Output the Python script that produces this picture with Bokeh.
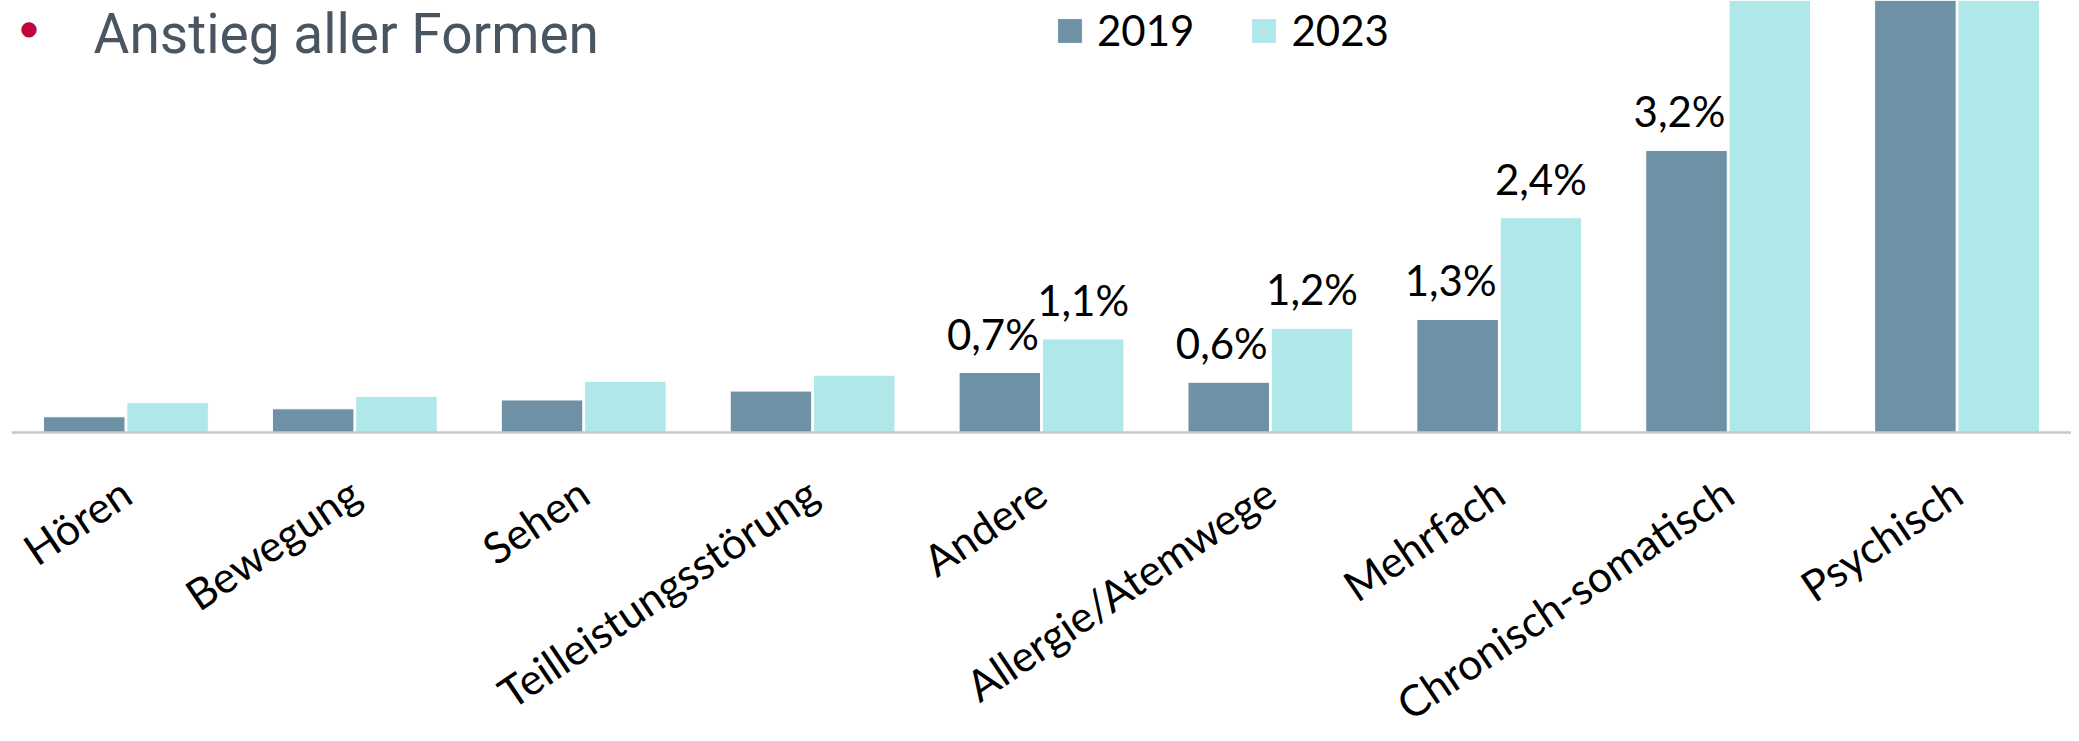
import math
from bokeh.plotting import figure
from bokeh.models import (ColumnDataSource, FactorRange, Range1d, CategoricalAxis, Label)
from bokeh.transform import dodge
from bokeh.core.properties import value
from bokeh.embed import file_html
from bokeh.resources import INLINE

# ---- data (values in %) ----
categories = ["Hören", "Bewegung", "Sehen", "Teilleistungsstörung", "Andere",
              "Allergie/Atemwege", "Mehrfach", "Chronisch-somatisch", "Psychisch"]
years = ["2019", "2023"]
values_2019 = [0.18, 0.27, 0.37, 0.47, 0.68, 0.57, 1.28, 3.19, 6.9]
values_2023 = [0.34, 0.41, 0.58, 0.65, 1.06, 1.18, 2.43, 5.6, 9.3]
first_labelled = 4          # data labels shown from "Andere" on
title_text = "Anstieg aller Formen"

# ---- styling ----
C2019 = "#6f91a5"
C2023 = "#b0e8ea"
Y_START, Y_END = -3.40, 4.885
FONT = "Lato"

def fmt(v):
    return f"{v:.1f}".replace(".", ",") + "%"

src = ColumnDataSource(dict(cat=categories, v2019=values_2019, v2023=values_2023))

p = figure(width=2071, height=733,
           x_range=FactorRange(factors=categories, range_padding=0),
           y_range=Range1d(Y_START, Y_END),
           x_axis_location=None, y_axis_location=None,
           min_border_left=11, min_border_right=0, min_border_top=0,
           min_border_bottom=0,
           output_backend="svg", toolbar_location=None)
p.outline_line_color = None
p.grid.visible = False
p.background_fill_color = "white"
p.border_fill_color = "white"
p.title.visible = False

p.vbar(x=dodge("cat", -0.182, range=p.x_range), top="v2019", width=0.356,
       source=src, fill_color=C2019, line_color="white", line_width=1,
       legend_label=years[0])
p.vbar(x=dodge("cat", 0.182, range=p.x_range), top="v2023", width=0.356,
       source=src, fill_color=C2023, line_color="white", line_width=1,
       legend_label=years[1])

# data labels (only where visible inside the plot)
for vals, off, xo in ((values_2019, -0.182, -7), (values_2023, 0.182, 0)):
    cats_l, vals_l, txt_l = [], [], []
    for i in range(first_labelled, len(categories)):
        if vals[i] < Y_END * 0.85:
            cats_l.append(categories[i]); vals_l.append(vals[i]); txt_l.append(fmt(vals[i]))
    ls = ColumnDataSource(dict(cat=cats_l, v=vals_l, t=txt_l))
    p.text(x=dodge("cat", off, range=p.x_range), y="v", text="t", source=ls,
           text_align="center", text_baseline="middle", y_offset=-39, x_offset=xo,
           text_font=value(FONT), text_font_size="42px", text_color="black")

# category axis at y = 0
xaxis = CategoricalAxis(fixed_location=0,
                        major_label_orientation=math.radians(34),
                        major_label_standoff=55,
                        major_tick_line_color=None, major_tick_out=0, major_tick_in=0,
                        minor_tick_line_color=None,
                        axis_line_color="#c8c8c8", axis_line_width=2.5,
                        major_label_text_font=FONT,
                        major_label_text_font_size="43px",
                        major_label_text_color="black")
p.add_layout(xaxis, "below")

# title with bullet
p.add_layout(Label(x=0.0765, y=4.574, text="\u25cf", text_align="center",
                   text_baseline="middle", text_font="DejaVu Sans",
                   text_font_size="20px", text_color="#c0053e"))
p.add_layout(Label(x=0.3583, y=4.504, text=title_text, text_align="left",
                   text_baseline="middle", text_font="Roboto",
                   text_font_size="55px", text_color="#4a5562"))

# legend
lg = p.legend[0]
lg.orientation = "horizontal"
lg.location = (1043, 678)
lg.border_line_color = None
lg.background_fill_alpha = 0
lg.padding = 0
lg.margin = 0
lg.spacing = 54
lg.label_standoff = 12
lg.glyph_width = 31
lg.glyph_height = 31
lg.label_text_font = FONT
lg.label_text_font_size = "42px"
lg.label_text_color = "black"

open("out.html", "w").write(file_html(p, INLINE))
